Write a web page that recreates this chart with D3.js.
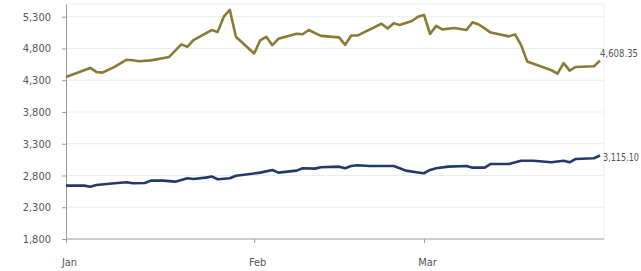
<!DOCTYPE html>
<html lang="en">
<head>
    <meta charset="UTF-8">
    <title>Line chart</title>
    <script src="https://d3js.org/d3.v7.min.js"></script>
    <style>
        body { margin: 0; background: #fff; }
        .axis text { font-family: "DejaVu Sans Condensed", "Liberation Sans Narrow", sans-serif; font-size: 11px; fill: #555; }
        .axis path, .axis line { stroke: #9a9a9a; }
        .end-label { font-family: "DejaVu Sans Condensed", sans-serif; font-size: 11px; fill: #555; }
    </style>
</head>
<body>
    <svg id="chart" width="641" height="271"></svg>

    <script>
        // Datos: fechas y valores
        const goldDates = [
            "2025-01-01", "2025-01-05", "2025-01-06", "2025-01-07", "2025-01-09", "2025-01-11", "2025-01-12",
            "2025-01-13", "2025-01-15", "2025-01-18", "2025-01-20", "2025-01-21", "2025-01-22", "2025-01-25",
            "2025-01-26", "2025-01-27", "2025-01-28", "2025-01-29", "2025-02-01", "2025-02-02", "2025-02-03",
            "2025-02-04", "2025-02-05", "2025-02-08", "2025-02-09", "2025-02-10", "2025-02-12", "2025-02-15",
            "2025-02-16", "2025-02-17", "2025-02-18", "2025-02-22", "2025-02-23", "2025-02-24", "2025-02-25",
            "2025-02-27", "2025-02-28", "2025-03-01", "2025-03-02", "2025-03-03", "2025-03-04", "2025-03-06",
            "2025-03-08", "2025-03-09", "2025-03-10", "2025-03-11", "2025-03-12", "2025-03-15", "2025-03-16",
            "2025-03-17", "2025-03-18", "2025-03-22", "2025-03-23", "2025-03-24", "2025-03-25", "2025-03-26",
            "2025-03-29", "2025-03-30"
        ];
        const goldValues = [
            4350, 4493, 4430, 4420, 4509, 4623, 4615,
            4599, 4612, 4667, 4865, 4825, 4931, 5090,
            5061, 5300, 5406, 4984, 4721, 4927, 4984,
            4852, 4952, 5031, 5023, 5090, 4998, 4974,
            4857, 5003, 5003, 5189, 5113, 5196, 5169,
            5232, 5300, 5327, 5029, 5156, 5101, 5121,
            5090, 5213, 5177, 5116, 5050, 4990, 5022,
            4852, 4596, 4457, 4405, 4568, 4452, 4509,
            4520, 4608.35
        ];

        const blueDates = [
            "2025-01-01", "2025-01-04", "2025-01-05", "2025-01-06", "2025-01-09", "2025-01-11", "2025-01-12",
            "2025-01-14", "2025-01-15", "2025-01-17", "2025-01-19", "2025-01-20", "2025-01-21", "2025-01-22",
            "2025-01-24", "2025-01-25", "2025-01-26", "2025-01-28", "2025-01-29", "2025-01-31", "2025-02-02",
            "2025-02-04", "2025-02-05", "2025-02-08", "2025-02-09", "2025-02-11", "2025-02-12", "2025-02-15",
            "2025-02-16", "2025-02-17", "2025-02-18", "2025-02-20", "2025-02-24", "2025-02-25", "2025-02-26",
            "2025-02-28", "2025-03-01", "2025-03-02", "2025-03-03", "2025-03-05", "2025-03-08", "2025-03-09",
            "2025-03-11", "2025-03-12", "2025-03-15", "2025-03-17", "2025-03-19", "2025-03-22", "2025-03-24",
            "2025-03-25", "2025-03-26", "2025-03-29", "2025-03-30"
        ];
        const blueValues = [
            2640, 2640, 2624, 2651, 2678, 2693, 2678,
            2682, 2719, 2719, 2703, 2730, 2757, 2745,
            2766, 2785, 2741, 2757, 2797, 2819, 2845,
            2887, 2845, 2876, 2914, 2908, 2930, 2939,
            2914, 2950, 2961, 2950, 2950, 2914, 2876,
            2848, 2835, 2887, 2914, 2939, 2950, 2923,
            2923, 2982, 2982, 3033, 3033, 3008, 3033,
            3008, 3060, 3071, 3115.10
        ];

        const yTicks = [1800, 2300, 2800, 3300, 3800, 4300, 4800, 5300];
        const monthTicks = ["2025-01-01", "2025-02-01", "2025-03-01"];

        // Dimensiones
        const width = 641, height = 271;
        const margin = { top: 4, right: 37, bottom: 32, left: 66 };
        const plotRight = width - margin.right;
        const plotBottom = height - margin.bottom;

        const parse = d3.timeParse("%Y-%m-%d");
        const gold = goldDates.map((d, i) => ({ date: parse(d), value: goldValues[i] }));
        const blue = blueDates.map((d, i) => ({ date: parse(d), value: blueValues[i] }));

        const svg = d3.select("#chart");

        const x = d3.scaleTime()
            .domain([parse("2025-01-01"), parse("2025-03-30")])
            .range([margin.left, 600]);

        const y = d3.scaleLinear()
            .domain([1800, 5500])
            .range([plotBottom, margin.top]);

        // Rejilla
        svg.append("g")
            .selectAll("line")
            .data(yTicks.slice(1))
            .enter()
            .append("line")
            .attr("x1", margin.left)
            .attr("x2", plotRight)
            .attr("y1", d => y(d))
            .attr("y2", d => y(d))
            .attr("stroke", "#ececec");

        // Borde superior y derecho
        svg.append("path")
            .attr("d", `M${margin.left},${margin.top}H${plotRight}V${plotBottom}`)
            .attr("fill", "none")
            .attr("stroke", "#f0f0f0");

        // Ejes
        svg.append("g")
            .attr("class", "axis")
            .attr("transform", `translate(${margin.left},0)`)
            .call(d3.axisLeft(y).tickValues(yTicks).tickFormat(d3.format(",")).tickSize(4).tickSizeOuter(0).tickPadding(11));

        const xAxis = svg.append("g")
            .attr("class", "axis")
            .attr("transform", `translate(0,${plotBottom})`)
            .call(d3.axisBottom(x)
                .tickValues(monthTicks.map(parse))
                .tickFormat(d3.timeFormat("%b"))
                .tickSize(4).tickSizeOuter(0).tickPadding(15));
        xAxis.select(".domain").attr("d", `M${margin.left},0H${plotRight}`);
        xAxis.selectAll(".tick text").attr("dx", 3);

        // Lineas
        const line = d3.line()
            .x(d => x(d.date))
            .y(d => y(d.value));

        svg.append("path")
            .datum(gold)
            .attr("fill", "none")
            .attr("stroke", "#8a7a34")
            .attr("stroke-width", 2.6)
            .attr("stroke-linejoin", "round")
            .attr("d", line);

        svg.append("path")
            .datum(blue)
            .attr("fill", "none")
            .attr("stroke", "#21396b")
            .attr("stroke-width", 2.6)
            .attr("stroke-linejoin", "round")
            .attr("d", line);

        // Etiquetas finales (comprimidas para que quepan)
        const lastGold = gold[gold.length - 1];
        const lastBlue = blue[blue.length - 1];

        svg.append("text")
            .attr("class", "end-label")
            .attr("x", x(lastGold.date))
            .attr("y", y(lastGold.value) - 4)
            .attr("textLength", 38)
            .attr("lengthAdjust", "spacingAndGlyphs")
            .text(d3.format(",.2f")(lastGold.value));

        svg.append("text")
            .attr("class", "end-label")
            .attr("x", x(lastBlue.date) + 3)
            .attr("y", y(lastBlue.value) + 6)
            .attr("textLength", 36)
            .attr("lengthAdjust", "spacingAndGlyphs")
            .text(d3.format(",.2f")(lastBlue.value));
    </script>
</body>
</html>
